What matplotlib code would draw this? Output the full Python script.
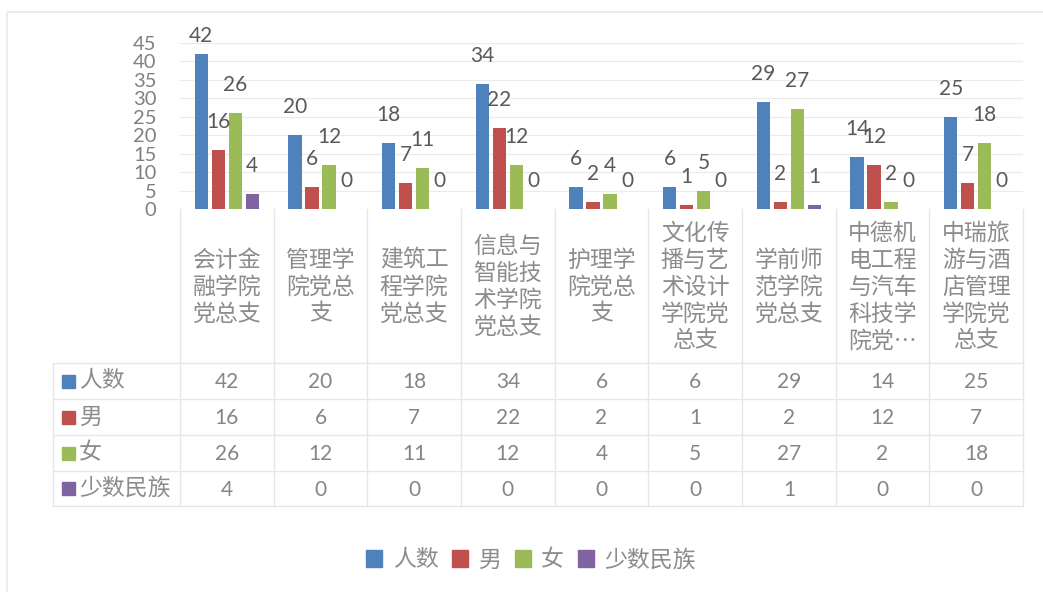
import matplotlib
matplotlib.use("Agg")
import matplotlib.pyplot as plt
import matplotlib.transforms as mtransforms
from matplotlib.patches import Patch, Rectangle
import numpy as np

plt.rcParams['font.family'] = ['Lato', 'Noto Sans CJK SC', 'DejaVu Sans']

categories = ["会计金融学院党总支", "管理学院党总支", "建筑工程学院党总支",
              "信息与智能技术学院党总支", "护理学院党总支", "文化传播与艺术设计学院党总支",
              "学前师范学院党总支", "中德机电工程与汽车科技学院党总支", "中瑞旅游与酒店管理学院党总支"]
series_names = ["人数", "男", "女", "少数民族"]
renshu = [42, 20, 18, 34, 6, 6, 29, 14, 25]
nan = [16, 6, 7, 22, 2, 1, 2, 12, 7]
nv = [26, 12, 11, 12, 4, 5, 27, 2, 18]
minzu = [4, 0, 0, 0, 0, 0, 1, 0, 0]
yticks = [0, 5, 10, 15, 20, 25, 30, 35, 40, 45]

series = [renshu, nan, nv, minzu]
colors = ["#4F81BD", "#C0504D", "#9BBB59", "#8064A2"]
W, H = 1043, 592
CJK = ['Noto Sans CJK SC', 'DejaVu Sans']

fig = plt.figure(figsize=(W / 100, H / 100), dpi=100)
ov = fig.add_axes([0, 0, 1, 1])
ov.set_xlim(0, W)
ov.set_ylim(H, 0)
ov.axis('off')
ov.add_patch(Rectangle((7, 12), 1200, 800, fill=False, edgecolor="#e9e9e9", lw=1.2))

left, right, top, bottom = 180, 1023, 43, 209
ymax = 45
ax = fig.add_axes([left / W, 1 - bottom / H, (right - left) / W, (bottom - top) / H])
n = len(categories)
x = np.arange(n) + 0.5
step = 0.1815
bw = 0.139
for i, (vals, c) in enumerate(zip(series, colors)):
    xs = x + (i - 1.5) * step
    ax.bar(xs, vals, width=bw, color=c, zorder=3)
    for xi, v in zip(xs, vals):
        bar_top_px = top + (ymax - v) / ymax * (bottom - top)
        label_px = max(bar_top_px - 28, 36)
        ax.annotate(str(v), (xi, v), xytext=(0, bar_top_px - label_px),
                    textcoords='offset pixels', ha='center', va='center',
                    fontsize=15, color="#595959", zorder=4, annotation_clip=False)
ax.set_xlim(0, n)
ax.set_ylim(0, ymax)
ax.set_yticks(yticks)
ax.set_yticklabels([str(t) for t in yticks], fontsize=14.5, color="#808080")
ax.tick_params(axis='y', length=0, pad=17)
ax.set_xticks([])
for s in ax.spines.values():
    s.set_visible(False)
ax.grid(axis='y', color="#ebebeb", lw=0.9, zorder=0)
ax.set_facecolor('none')

# data table
bt = mtransforms.blended_transform_factory(ax.transData, ov.transData)
lc = "#e6e6e6"
row_y = [363, 399, 435, 471, 506]
tleft = 53
cat_top = 209
for b in range(n + 1):
    ov.plot([b, b], [cat_top, row_y[-1]], color=lc, lw=1, transform=bt)
ov.plot([tleft, tleft], [row_y[0], row_y[-1]], color=lc, lw=1)
for yy in row_y:
    ov.plot([tleft, right], [yy, yy], color=lc, lw=1)

def wrap(s, per=3, maxlines=5):
    lines = [s[k:k + per] for k in range(0, len(s), per)]
    if len(lines) > maxlines:
        lines = lines[:maxlines]
        lines[-1] = lines[-1][:2] + "…"
    return "\n".join(lines)

cat_mid = (cat_top + row_y[0]) / 2 + 1
for xi, cname in zip(x, categories):
    ov.text(xi, cat_mid, wrap(cname), transform=bt, ha='center', va='center',
            fontsize=16.5, color="#8c8c8c", linespacing=1.22, family=CJK,
            fontweight='light')

for r, (name, vals, c) in enumerate(zip(series_names, series, colors)):
    yc = (row_y[r] + row_y[r + 1]) / 2
    ov.add_patch(Rectangle((62, yc - 6.5), 13, 13, color=c))
    ov.text(79, yc, name, ha='left', va='center', fontsize=16.5, color="#8c8c8c",
            family=CJK, fontweight='light')
    for xi, v in zip(x, vals):
        ov.text(xi, yc + 1, str(v), transform=bt, ha='center', va='center',
                fontsize=15, color="#858585")

handles = [Patch(color=c, label=s) for c, s in zip(colors, series_names)]
leg = fig.legend(handles=handles, loc='center', bbox_to_anchor=(531 / W, 1 - 560 / H),
                 ncol=4, frameon=False, handlelength=0.7, handleheight=0.7,
                 handletextpad=0.45, columnspacing=0.6,
                 prop={'family': CJK, 'size': 16.5, 'weight': 'light'})
for t in leg.get_texts():
    t.set_color("#8c8c8c")

fig.savefig("out.png", dpi=100)
